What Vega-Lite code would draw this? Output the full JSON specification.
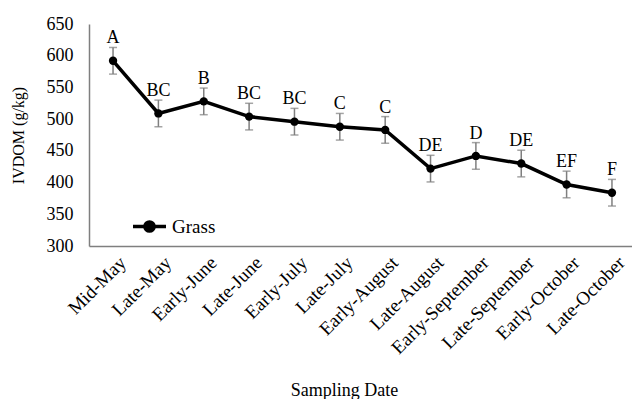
{
  "$schema": "https://vega.github.io/schema/vega-lite/v6.json",
  "width": 547,
  "height": 222,
  "autosize": "none",
  "padding": {"left": 89, "top": 24, "right": 0, "bottom": 153},
  "background": "white",
  "config": {
    "font": "Liberation Serif",
    "view": {"stroke": null},
    "axisY": {
      "titleFontSize": 16,
      "titleFontWeight": "normal",
      "titleColor": "black",
      "titleX": -71,
      "titleY": 111,
      "titleAngle": -90,
      "titleAlign": "center",
      "titleBaseline": "middle",
      "labelFontSize": 18,
      "labelColor": "black",
      "labelPadding": 16,
      "labelOverlap": false,
      "labelFlush": false,
      "ticks": false,
      "grid": false,
      "domainColor": "#7f7f7f",
      "domainWidth": 1.5
    }
  },
  "data": {
    "values": [
      {"date": "Mid-May", "ivdom": 592, "lo": 571, "hi": 613, "letter": "A"},
      {"date": "Late-May", "ivdom": 509, "lo": 488, "hi": 530, "letter": "BC"},
      {"date": "Early-June", "ivdom": 528, "lo": 507, "hi": 549, "letter": "B"},
      {"date": "Late-June", "ivdom": 504, "lo": 483, "hi": 525, "letter": "BC"},
      {"date": "Early-July", "ivdom": 496, "lo": 475, "hi": 517, "letter": "BC"},
      {"date": "Late-July", "ivdom": 488, "lo": 467, "hi": 509, "letter": "C"},
      {"date": "Early-August", "ivdom": 483, "lo": 462, "hi": 504, "letter": "C"},
      {"date": "Late-August", "ivdom": 422, "lo": 401, "hi": 443, "letter": "DE"},
      {"date": "Early-September", "ivdom": 442, "lo": 421, "hi": 463, "letter": "D"},
      {"date": "Late-September", "ivdom": 430, "lo": 409, "hi": 451, "letter": "DE"},
      {"date": "Early-October", "ivdom": 397, "lo": 376, "hi": 418, "letter": "EF"},
      {"date": "Late-October", "ivdom": 384, "lo": 363, "hi": 405, "letter": "F"}
    ]
  },
  "encoding": {
    "x": {
      "field": "date",
      "type": "ordinal",
      "sort": null,
      "scale": {"type": "point", "padding": 0.53},
      "axis": {
        "title": "Sampling Date",
        "titleFontSize": 18,
        "titleFontWeight": "normal",
        "titleColor": "black",
        "titleX": 255,
        "titleY": 144,
        "titleBaseline": "middle",
        "titleAlign": "center",
        "labelAngle": -45,
        "labelFontSize": 19,
        "labelColor": "black",
        "labelPadding": 7,
        "labelOffset": 3,
        "labelOverlap": false,
        "ticks": false,
        "domainColor": "#7f7f7f",
        "domainWidth": 1.5,
        "grid": false
      }
    }
  },
  "layer": [
    {
      "mark": {"type": "rule", "color": "#7f7f7f", "strokeWidth": 1.5},
      "encoding": {
        "y": {
          "field": "lo",
          "type": "quantitative",
          "scale": {"domain": [300, 650]},
          "axis": {"title": "IVDOM (g/kg)", "values": [300, 350, 400, 450, 500, 550, 600, 650]}
        },
        "y2": {"field": "hi"}
      }
    },
    {
      "mark": {"type": "tick", "color": "#7f7f7f", "size": 8, "thickness": 1.5},
      "encoding": {"y": {"field": "lo", "type": "quantitative", "axis": {"title": "IVDOM (g/kg)", "values": [300, 350, 400, 450, 500, 550, 600, 650]}}}
    },
    {
      "mark": {"type": "tick", "color": "#7f7f7f", "size": 8, "thickness": 1.5},
      "encoding": {"y": {"field": "hi", "type": "quantitative", "axis": {"title": "IVDOM (g/kg)", "values": [300, 350, 400, 450, 500, 550, 600, 650]}}}
    },
    {
      "mark": {"type": "line", "strokeWidth": 3.5},
      "encoding": {
        "y": {"field": "ivdom", "type": "quantitative", "axis": {"title": "IVDOM (g/kg)", "values": [300, 350, 400, 450, 500, 550, 600, 650]}},
        "stroke": {
          "datum": "Grass",
          "type": "nominal",
          "scale": {"range": ["black"]},
          "legend": {
            "orient": "none",
            "legendX": 42,
            "legendY": 184,
            "title": null,
            "padding": 0,
            "symbolType": "M-1,0H1M-0.28,0A0.28,0.28 0 1,1 0.28,0A0.28,0.28 0 1,1 -0.28,0",
            "symbolSize": 1089,
            "symbolStrokeWidth": 3.5,
            "symbolFillColor": "black",
            "labelFontSize": 19,
            "labelColor": "black",
            "labelOffset": 4
          }
        }
      }
    },
    {
      "mark": {"type": "point", "filled": true, "color": "black", "size": 70, "opacity": 1},
      "encoding": {"y": {"field": "ivdom", "type": "quantitative", "axis": {"title": "IVDOM (g/kg)", "values": [300, 350, 400, 450, 500, 550, 600, 650]}}}
    },
    {
      "mark": {"type": "text", "baseline": "alphabetic", "dy": -4, "fontSize": 18, "color": "black"},
      "encoding": {
        "y": {"field": "hi", "type": "quantitative", "axis": {"title": "IVDOM (g/kg)", "values": [300, 350, 400, 450, 500, 550, 600, 650]}},
        "text": {"field": "letter"}
      }
    }
  ]
}
